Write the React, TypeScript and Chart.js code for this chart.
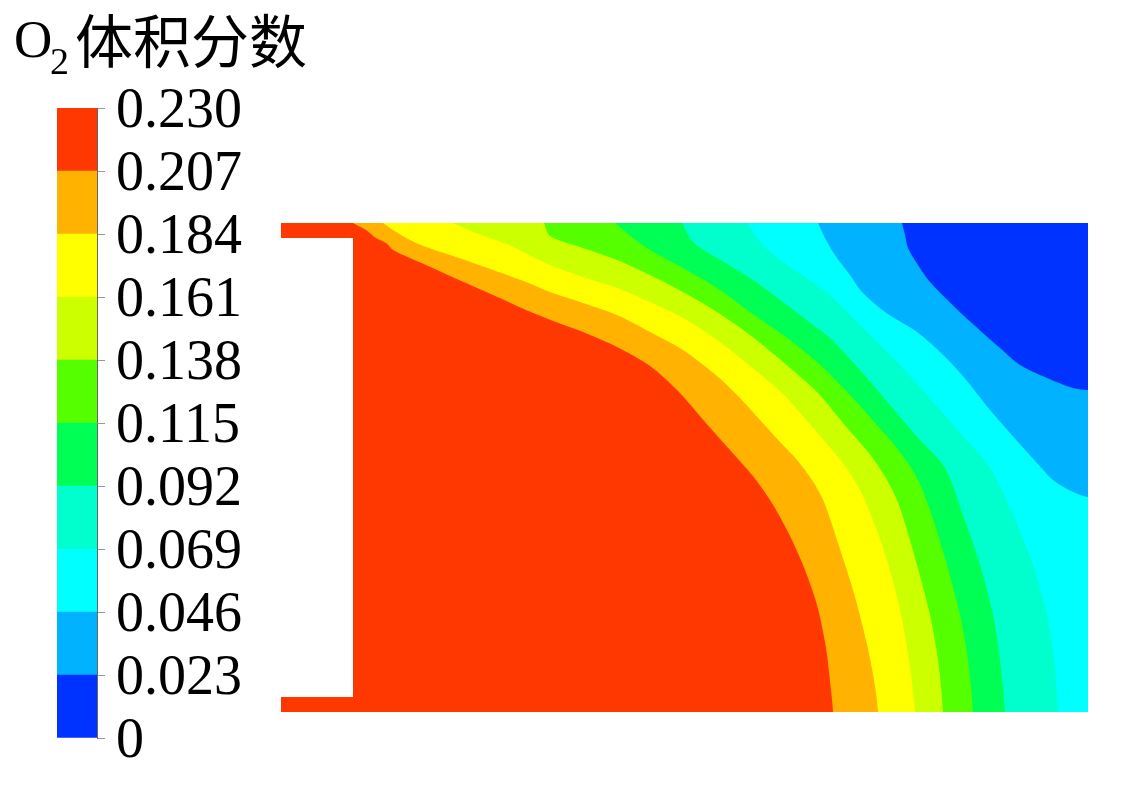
import { useEffect, useRef } from "react";
import { Chart, registerables } from "chart.js";

Chart.register(...registerables);

// O2 volume fraction contour levels and band colours (low -> high)
const LEVELS = [0, 0.023, 0.046, 0.069, 0.092, 0.115, 0.138, 0.161, 0.184, 0.207, 0.23];
const TICK_LABELS = ["0", "0.023", "0.046", "0.069", "0.092", "0.115", "0.138", "0.161", "0.184", "0.207", "0.230"];
const BAND_COLORS = [
  "#0033FF",
  "#00B2FF",
  "#00FFFF",
  "#00FFCC",
  "#00FF55",
  "#55FF00",
  "#CCFF00",
  "#FFFF00",
  "#FFB200",
  "#FF3700",
];
const TITLE_MAIN = "O";
const TITLE_SUB = "2";
const TITLE_REST = "体积分数";

// Domain geometry (grid units): x along the chamber, y = depth below the top wall
const DOMAIN_LENGTH = 807;
const DOMAIN_HEIGHT = 489;
const INLET_WALL_X = 72;
const INLET_STRIP = 15;

// Iso-lines [x, depth]
const ISO_0023 = [[621,0],[624,12],[627,25],[637,42],[649,59],[682,92],[719,125],[739,142],[766,155],[792,165],[807,167]];
const ISO_0046 = [[537,0],[545,17],[556,35],[569,52],[581,69],[604,89],[636,109],[659,129],[681,152],[709,187],[729,210],[756,240],[772,257],[792,269],[807,274]];
const ISO_0069 = [[466,0],[482,22],[502,39],[536,62],[549,72],[579,102],[619,142],[659,187],[684,215],[709,245],[732,292],[752,342],[766,392],[773,437],[777,489]];
const ISO_0092 = [[401,0],[412,19],[436,35],[469,55],[502,79],[536,105],[549,115],[579,147],[609,182],[639,217],[664,245],[682,292],[699,342],[712,392],[719,437],[724,489]];
const ISO_0115 = [[334,0],[352,15],[369,27],[402,45],[436,65],[469,89],[502,112],[536,139],[569,172],[596,202],[619,229],[636,255],[649,287],[666,342],[679,392],[687,437],[692,489]];
const ISO_0138 = [[263,0],[269,13],[302,25],[336,37],[369,52],[402,69],[436,89],[469,112],[502,139],[536,169],[562,200],[587,229],[603,252],[616,277],[626,307],[636,342],[649,392],[657,437],[662,489]];
const ISO_0161 = [[172,0],[195,10],[228,22],[269,42],[302,54],[336,65],[369,79],[402,95],[436,117],[469,143],[502,171],[527,199],[547,222],[564,243],[579,267],[592,297],[606,337],[619,387],[628,437],[634,489]];
const ISO_0184 = [[102,0],[112,7],[129,17],[145,24],[178,35],[212,47],[245,59],[269,69],[302,80],[336,92],[369,109],[402,127],[436,153],[459,175],[479,197],[499,219],[516,237],[531,257],[543,279],[556,317],[572,367],[585,417],[593,457],[597,489]];
const ISO_0207 = [[72,0],[85,7],[95,15],[105,20],[112,27],[145,42],[178,57],[212,72],[245,87],[275,99],[302,109],[336,124],[369,143],[397,168],[424,199],[449,227],[471,252],[489,277],[506,307],[522,342],[536,382],[545,425],[550,467],[552,489]];

const ISO_LINES = [ISO_0023, ISO_0046, ISO_0069, ISO_0092, ISO_0115, ISO_0138, ISO_0161, ISO_0184, ISO_0207];

const SERIF = "'Liberation Serif', 'Times New Roman', serif";
const CJK = "'Noto Sans CJK SC', sans-serif";
const OUT = 30; // margin used to close polygons outside the clipped plot area

// region where the fraction is above a level: iso-line, then closed around the outside of the domain
function regionAbove(line: number[][]) {
  const pts = line.slice();
  const [xe, ye] = line[line.length - 1];
  if (xe >= DOMAIN_LENGTH && ye < DOMAIN_HEIGHT) {
    pts.push([DOMAIN_LENGTH + OUT, ye], [DOMAIN_LENGTH + OUT, DOMAIN_HEIGHT + OUT]);
  } else {
    pts.push([xe, DOMAIN_HEIGHT + OUT]);
  }
  pts.push([-OUT, DOMAIN_HEIGHT + OUT], [-OUT, -OUT]);
  return pts.map(([x, y]) => ({ x, y }));
}

function baseRegion() {
  return [[0, 0], [DOMAIN_LENGTH, 0], [DOMAIN_LENGTH, DOMAIN_HEIGHT], [0, DOMAIN_HEIGHT]].map(([x, y]) => ({ x, y }));
}

// solid wall of the inlet (outside the fluid domain)
function inletWall() {
  return [
    [0, INLET_STRIP],
    [INLET_WALL_X, INLET_STRIP],
    [INLET_WALL_X, DOMAIN_HEIGHT - INLET_STRIP],
    [0, DOMAIN_HEIGHT - INLET_STRIP],
  ].map(([x, y]) => ({ x, y }));
}

const titlePlugin = {
  id: "o2Title",
  afterDraw(chart: any) {
    const ctx = chart.ctx;
    ctx.save();
    ctx.fillStyle = "#000";
    ctx.textAlign = "left";
    ctx.textBaseline = "alphabetic";
    ctx.font = `53px ${SERIF}`;
    ctx.fillText(TITLE_MAIN, 14, 57);
    ctx.font = `38px ${SERIF}`;
    ctx.fillText(TITLE_SUB, 50, 74);
    ctx.font = `58px ${CJK}`;
    ctx.textBaseline = "middle";
    ctx.fillText(TITLE_REST, 75, 41);
    ctx.restore();
  },
};

export default function App() {
  const barRef = useRef<HTMLCanvasElement>(null);
  const mapRef = useRef<HTMLCanvasElement>(null);

  useEffect(() => {
    const bar = new Chart(barRef.current!, {
      type: "bar",
      data: {
        labels: [""],
        datasets: BAND_COLORS.map((c, i) => ({
          data: [[LEVELS[i], LEVELS[i + 1]]] as any,
          backgroundColor: c,
          borderWidth: 0,
          grouped: false,
          barPercentage: 1,
          categoryPercentage: 1,
        })),
      },
      options: {
        responsive: false,
        maintainAspectRatio: false,
        animation: false,
        events: [],
        layout: { padding: { left: 57, right: 0, top: 108, bottom: 51 } },
        plugins: { legend: { display: false }, tooltip: { enabled: false }, title: { display: false } },
        scales: {
          x: { type: "category", display: false },
          y: {
            type: "linear",
            position: "right",
            min: LEVELS[0],
            max: LEVELS[LEVELS.length - 1],
            afterBuildTicks: (axis: any) => {
              axis.ticks = LEVELS.map((v) => ({ value: v }));
            },
            afterFit: (axis: any) => {
              axis.width = 223;
            },
            ticks: {
              callback: (_v: any, i: number) => TICK_LABELS[i],
              font: { family: SERIF, size: 56 },
              color: "#000",
              padding: 11,
              labelOffset: 4,
              autoSkip: false,
            },
            grid: { drawOnChartArea: false, drawTicks: true, tickLength: 8, color: "#9a9a9a", tickColor: "#9a9a9a" },
            border: { display: true, color: "#666", width: 1 },
          },
        },
      },
      plugins: [titlePlugin],
    });

    const common = {
      borderWidth: 0,
      pointRadius: 0,
      pointHoverRadius: 0,
      fill: "shape" as any,
    };
    const datasets: any[] = [];
    datasets.push({ ...common, data: inletWall(), backgroundColor: "#ffffff", borderColor: "#ffffff", tension: 0 });
    const lines = [...ISO_LINES].reverse();
    const colorsTop = [...BAND_COLORS].reverse();
    lines.forEach((line, i) => {
      datasets.push({ ...common, data: regionAbove(line), backgroundColor: colorsTop[i], borderColor: colorsTop[i], tension: 0.3 });
    });
    datasets.push({ ...common, data: baseRegion(), backgroundColor: BAND_COLORS[0], borderColor: BAND_COLORS[0], tension: 0 });

    const map = new Chart(mapRef.current!, {
      type: "line",
      data: { datasets },
      options: {
        responsive: false,
        maintainAspectRatio: false,
        animation: false,
        events: [],
        layout: { padding: 0 },
        plugins: { legend: { display: false }, tooltip: { enabled: false }, title: { display: false } },
        scales: {
          x: { type: "linear", min: 0, max: DOMAIN_LENGTH, display: false },
          y: { type: "linear", min: 0, max: DOMAIN_HEIGHT, reverse: true, display: false },
        },
      },
    });

    return () => {
      bar.destroy();
      map.destroy();
    };
  }, []);

  return (
    <div style={{ position: "absolute", left: 0, top: 0, width: 1140, height: 789, background: "#fff" }}>
      <canvas ref={barRef} width={320} height={789} style={{ position: "absolute", left: 0, top: 0 }} />
      <canvas ref={mapRef} width={807} height={489} style={{ position: "absolute", left: 281, top: 223 }} />
    </div>
  );
}
